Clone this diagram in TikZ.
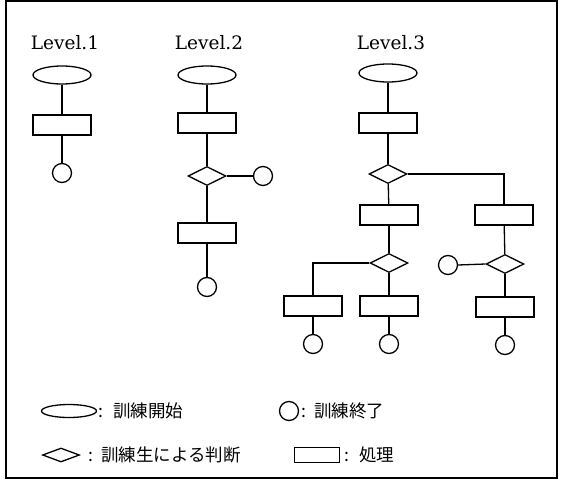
\documentclass[tikz,border=0pt]{standalone}
\usepackage{fontspec}
\newfontfamily\jpfont{Noto Sans CJK JP}
\newfontfamily\titlefont{DejaVu Serif}
\usetikzlibrary{shapes.geometric}
\tikzset{
  shape line/.style={draw=black, line width=1.3pt},
  startnode/.style={shape line, ellipse, minimum width=58pt, minimum height=18pt, inner sep=0pt},
  procnode/.style={shape line, rectangle, minimum width=58pt, minimum height=20pt, inner sep=0pt},
  decnode/.style={shape line, diamond, minimum width=38pt, minimum height=19pt, inner sep=0pt},
  endnode/.style={shape line, circle, minimum size=19pt, inner sep=0pt},
  link/.style={draw=black, line width=1.3pt},
  leveltitle/.style={font=\titlefont\fontsize{18.5}{18.5}\selectfont, inner sep=0pt},
  legendtext/.style={font=\jpfont\fontsize{17.5}{17.5}\selectfont, anchor=west, inner sep=0pt},
}
\begin{document}
\begin{tikzpicture}[x=1pt, y=-1pt]
\useasboundingbox (0,0) rectangle (561,487);
\draw[line width=1.1pt] (6,1) rectangle (557,478);

% Level 1
\node[leveltitle] (t1) at (65,43) {Level.1};
\node[startnode] (a1) at (62,75) {};
\node[procnode]  (a2) at (62,125) {};
\node[endnode]   (a3) at (62,173) {};
\draw[link] (a1) -- (a2);
\draw[link] (a2) -- (a3);

% Level 2
\node[leveltitle] (t2) at (209,43) {Level.2};
\node[startnode] (b1) at (207,75) {};
\node[procnode]  (b2) at (207,123) {};
\node[decnode]   (b3) at (207,176) {};
\node[endnode]   (b4) at (263,176) {};
\node[procnode]  (b5) at (207,233) {};
\node[endnode]   (b6) at (207,287) {};
\draw[link] (b1) -- (b2);
\draw[link] (b2) -- (b3);
\draw[link] (b3) -- (b4);
\draw[link] (b3) -- (b5);
\draw[link] (b5) -- (b6);

% Level 3
\node[leveltitle] (t3) at (391,43) {Level.3};
\node[startnode] (c1) at (388,73) {};
\node[procnode]  (c2) at (388,123) {};
\node[decnode]   (c3) at (388,174) {};
\node[procnode]  (c4) at (389,215) {};
\node[procnode]  (c5) at (504,215) {};
\node[decnode]   (c6) at (389,263) {};
\node[procnode]  (c7) at (313,306) {};
\node[procnode]  (c8) at (389,306) {};
\node[endnode]   (c9) at (313,344) {};
\node[endnode]   (c10) at (389,344) {};
\node[decnode]   (c11) at (505,264) {};
\node[endnode]   (c12) at (448,265) {};
\node[procnode]  (c13) at (505,307) {};
\node[endnode]   (c14) at (505,345) {};
\draw[link] (c1) -- (c2);
\draw[link] (c2) -- (c3);
\draw[link] (c3) -- (c4);
\draw[link] (c3.east) -| (c5.north);
\draw[link] (c4) -- (c6);
\draw[link] (c6.west) -| (c7.north);
\draw[link] (c6) -- (c8);
\draw[link] (c7) -- (c9);
\draw[link] (c8) -- (c10);
\draw[link] (c5) -- (c11);
\draw[link] (c11.west) -- (c12.east);
\draw[link] (c11) -- (c13);
\draw[link] (c13) -- (c14);

% Legend
\node[shape line, ellipse, minimum width=55pt, minimum height=13pt, inner sep=0pt] (k1) at (69,411) {};
\node[legendtext] (k1t) at (98,411) {:\hspace{10pt}訓練開始};
\node[endnode, minimum size=19pt] (k2) at (289,411) {};
\node[legendtext] (k2t) at (301,411) {:\hspace{8pt}訓練終了};
\node[shape line, diamond, minimum width=37pt, minimum height=14pt, inner sep=0pt] (k3) at (61,455) {};
\node[legendtext] (k3t) at (88,455) {:\hspace{8pt}訓練生による判断};
\node[shape line, rectangle, minimum width=45pt, minimum height=15pt, inner sep=0pt] (k4) at (317,455) {};
\node[legendtext] (k4t) at (344,455) {:\hspace{10pt}処理};
\end{tikzpicture}
\end{document}
